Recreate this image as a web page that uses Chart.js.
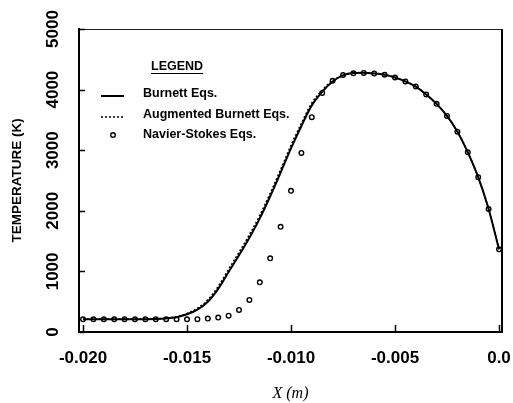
<!DOCTYPE html>
<html>
<head>
<meta charset="utf-8">
<script src="https://cdn.jsdelivr.net/npm/chart.js@4/dist/chart.umd.min.js"></script>
<style>
  body { margin: 0; background: #fff; }
  #wrap { width: 513px; height: 403px; }
</style>
</head>
<body>
<div id="wrap"><canvas id="tempChart" width="513" height="403"></canvas></div>
<script>
// positions along the shock (m), one value every 0.0005
const xPositions = [
  -0.0200, -0.0195, -0.0190, -0.0185, -0.0180, -0.0175, -0.0170, -0.0165, -0.0160, -0.0155,
  -0.0150, -0.0145, -0.0140, -0.0135, -0.0130, -0.0125, -0.0120, -0.0115, -0.0110, -0.0105,
  -0.0100, -0.0095, -0.0090, -0.0085, -0.0080, -0.0075, -0.0070, -0.0065, -0.0060, -0.0055,
  -0.0050, -0.0045, -0.0040, -0.0035, -0.0030, -0.0025, -0.0020, -0.0015, -0.0010, -0.0005,
  0.0000
];

// temperature (K)
const burnett = [
  210, 210, 210, 210, 210, 210, 211, 214, 224, 245,
  292, 370, 500, 712, 990, 1265, 1555, 1875, 2240, 2630,
  3030, 3400, 3740, 3965, 4135, 4235, 4272, 4277, 4266, 4245,
  4200, 4135, 4048, 3920, 3765, 3565, 3305, 2965, 2555, 2030,
  1365
];

const augmentedBurnett = [
  210, 210, 210, 210, 210, 210, 211, 216, 229, 253,
  307, 392, 530, 752, 1035, 1315, 1605, 1925, 2290, 2680,
  3080, 3445, 3780, 3990, 4145, 4238, 4272, 4277, 4266, 4245,
  4200, 4135, 4048, 3920, 3765, 3565, 3305, 2965, 2555, 2030,
  1365
];

const navierStokes = [
  210, 210, 210, 210, 210, 210, 210, 210, 210, 210,
  210, 212, 222, 238, 270, 365, 530, 820, 1215, 1735,
  2330, 2955, 3545, 3945, 4145, 4240, 4270, 4275, 4265, 4245,
  4200, 4135, 4050, 3920, 3765, 3565, 3305, 2965, 2555, 2030,
  1365
];

const seriesNames = ['Burnett Eqs.', 'Augmented Burnett Eqs.', 'Navier-Stokes Eqs.'];
const legendTitle = 'LEGEND';
const xTickValues = [-0.020, -0.015, -0.010, -0.005, 0.0];
const xTickLabels = ['-0.020', '-0.015', '-0.010', '-0.005', '0.0'];
const yTickLabels = ['0', '1000', '2000', '3000', '4000', '5000'];

const toPoints = vals => xPositions.map((x, i) => ({ x: x, y: vals[i] }));

// top / right frame of the plot box, plus the short inward tick marks
const frameBox = {
  id: 'frameBox',
  afterDraw(chart) {
    const { ctx, chartArea: a, scales } = chart;
    ctx.save();
    ctx.strokeStyle = '#222';
    ctx.lineWidth = 1;
    ctx.beginPath();
    ctx.moveTo(a.left, a.top + 0.5);
    ctx.lineTo(a.right, a.top + 0.5);
    ctx.stroke();
    ctx.strokeStyle = '#000';
    ctx.lineWidth = 2;
    ctx.beginPath();
    ctx.moveTo(a.right, a.top);
    ctx.lineTo(a.right, a.bottom);
    ctx.stroke();

    ctx.lineWidth = 1.5;
    ctx.beginPath();
    scales.x.ticks.forEach(t => {
      const px = Math.round(scales.x.getPixelForValue(t.value)) + 0.5;
      ctx.moveTo(px, a.bottom);
      ctx.lineTo(px, a.bottom - 7);
    });
    scales.y.ticks.forEach(t => {
      const py = Math.round(scales.y.getPixelForValue(t.value)) + 0.5;
      ctx.moveTo(a.left, py);
      ctx.lineTo(a.left + 6, py);
    });
    ctx.stroke();
    ctx.restore();
  }
};

// legend drawn like the paper's boxed-free legend
const paperLegend = {
  id: 'paperLegend',
  afterDraw(chart) {
    const c = chart.ctx;
    const ds = chart.data.datasets;
    c.save();
    c.fillStyle = '#000';
    c.strokeStyle = '#000';
    c.font = 'bold 12.5px "Liberation Sans"';
    c.textBaseline = 'middle';
    c.fillText(legendTitle, 151, 67);
    const w = c.measureText(legendTitle).width;
    c.lineWidth = 1.2;
    c.beginPath();
    c.moveTo(151, 73.5);
    c.lineTo(151 + w, 73.5);
    c.stroke();

    const rows = [94, 115, 135];
    ds.forEach((d, i) => {
      const y = rows[i];
      if (d.showLine) {
        c.lineWidth = d.borderWidth;
        c.setLineDash(d.borderDash || []);
        c.beginPath();
        c.moveTo(101, y + 2);
        c.lineTo(124, y + 2);
        c.stroke();
        c.setLineDash([]);
      } else {
        c.lineWidth = d.borderWidth;
        c.beginPath();
        c.arc(113, y, d.pointRadius, 0, Math.PI * 2);
        c.stroke();
      }
      c.fillText(seriesNames[i], 143, y);
    });
    c.restore();
  }
};

// keep the plot box fixed: no extra room reserved for overhanging labels
const noOverhang = s => { s.paddingLeft = 0; s.paddingRight = 0; s.paddingTop = 0; s.paddingBottom = 0; };

const ctx = document.getElementById('tempChart').getContext('2d');
new Chart(ctx, {
  type: 'scatter',
  data: {
    datasets: [
      {
        label: seriesNames[0],
        data: toPoints(burnett),
        showLine: true,
        borderColor: '#000',
        borderWidth: 2,
        pointRadius: 0,
        cubicInterpolationMode: 'monotone'
      },
      {
        label: seriesNames[1],
        data: toPoints(augmentedBurnett),
        showLine: true,
        borderColor: '#000',
        borderWidth: 1.5,
        borderDash: [2, 2],
        pointRadius: 0,
        cubicInterpolationMode: 'monotone'
      },
      {
        label: seriesNames[2],
        data: toPoints(navierStokes),
        showLine: false,
        borderColor: '#000',
        backgroundColor: '#fff',
        borderWidth: 1.4,
        pointRadius: 2.3
      }
    ]
  },
  options: {
    responsive: false,
    animation: false,
    layout: { padding: { top: 29, right: 11, left: 0, bottom: 0 } },
    plugins: {
      legend: { display: false },
      tooltip: { enabled: false }
    },
    scales: {
      x: {
        type: 'linear',
        min: -0.020192,
        max: 0.000144,
        afterBuildTicks: s => { s.ticks = xTickValues.map(v => ({ value: v })); },
        afterFit: s => { s.height = 71; noOverhang(s); },
        ticks: {
          callback: (v, i) => xTickLabels[i],
          font: { family: 'Liberation Sans', size: 17, weight: 'bold' },
          color: '#000',
          padding: 16,
          maxRotation: 0,
          autoSkip: false
        },
        grid: { display: false, drawTicks: false },
        border: { display: true, color: '#000', width: 2 },
        title: {
          display: true,
          text: 'X (m)',
          font: { family: 'Liberation Serif', size: 16, style: 'italic' },
          color: '#000',
          padding: 0
        }
      },
      y: {
        min: 0,
        max: 5000,
        afterFit: s => { s.width = 79; noOverhang(s); },
        ticks: {
          stepSize: 1000,
          callback: (v, i) => yTickLabels[i],
          font: { family: 'Liberation Sans', size: 17, weight: 'bold' },
          color: '#000',
          padding: 7,
          minRotation: 90,
          maxRotation: 90,
          crossAlign: 'center'
        },
        grid: { display: false, drawTicks: false },
        border: { display: true, color: '#000', width: 2 },
        title: {
          display: true,
          text: 'TEMPERATURE (K)',
          font: { family: 'Liberation Sans', size: 13.5, weight: 'bold' },
          color: '#000',
          padding: { top: 9, bottom: 0 }
        }
      }
    }
  },
  plugins: [frameBox, paperLegend]
});
</script>
</body>
</html>
